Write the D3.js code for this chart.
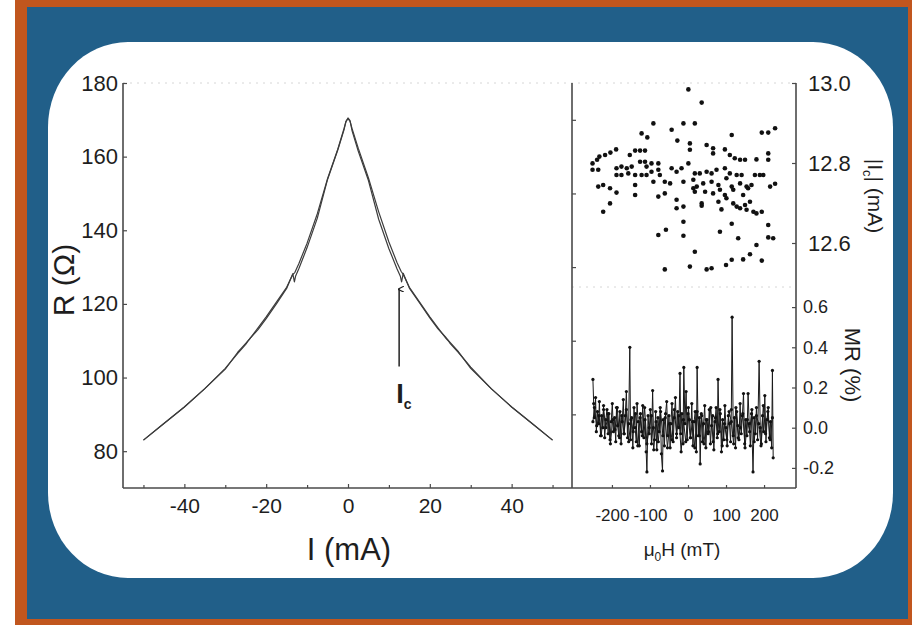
<!DOCTYPE html>
<html>
<head>
<meta charset="utf-8">
<script src="https://cdn.jsdelivr.net/npm/d3@7/dist/d3.min.js"></script>
<style>
    body { margin: 0; background: #ffffff; }
    text { font-family: "Liberation Sans", Arial, sans-serif; fill: #1e1e1e; }
</style>
</head>
<body>
<div id="chart"></div>
<script>
/* * * * * * * * * * * * * *
*   R(I) + Ic(H) + MR(H)   *
* * * * * * * * * * * * * */

// current sweep -50 -> +50 mA
const currentUp = [-50,-45,-40,-35,-30,-27,-25,-24.5,-24,-22,-20,-17.5,-15,-13.5,-13,-12,-10,-7.5,-5,-2.5,-1,-0.5,0,0.5,1,2.5,5,7.5,10,12,12.8,13.1,13.5,15,17.5,20,22,24,25,27,30,35,40,45,50];
const resistanceUp = [83,87.5,92,97,102.5,106.5,109,109.8,110.5,113.5,116.5,120.5,124.5,128,128.5,131,136.5,144.5,154,162,167.5,169.5,170.5,169.8,167,161.5,153.5,143,135,129.5,127.5,126,128.3,124.3,120.3,116.2,113.2,110.8,109.5,107,102.5,97,92,87.5,83];

// current sweep +50 -> -50 mA
const currentDown = [50,45,40,35,30,27,25,24.5,24,22,20,17.5,15,13.5,13,12,10,7.5,5,2.5,1,0.5,0,-0.5,-1,-2.5,-5,-7.5,-10,-12,-12.8,-13.1,-13.5,-15,-17.5,-20,-22,-24,-25,-27,-30,-35,-40,-45,-50];
const resistanceDown = [83,87.5,92,97,102.8,106.8,109.2,110,110.6,113.5,116.5,120.5,124.5,128,128.8,131.2,136.8,145,154.2,162.3,167.6,169.6,170.3,169.6,167.2,161.8,153.8,143.3,135.3,129.6,127.6,126,128.2,124.2,120,116,113,110.6,109.3,106.8,102.3,97,92,87.5,83];

// |Ic| (mA) vs mu0H (mT)
const icPoints = [
    [1,12.984],[36,12.951],[-91,12.899],[-12,12.899],[18,12.899],[-122,12.874],[-107,12.864],[-43,12.883],
    [115,12.870],[194,12.876],[211,12.876],[229,12.887],[-28,12.856],[5,12.849],[49,12.845],[66,12.837],
    [-233,12.816],[-218,12.820],[-204,12.826],[-189,12.834],[-153,12.820],[-139,12.831],[-126,12.831],[-113,12.831],
    [5,12.833],[66,12.824],[97,12.834],[110,12.820],[123,12.812],[137,12.808],[150,12.808],[180,12.809],
    [211,12.824],[211,12.808],[-251,12.799],[-239,12.808],[-251,12.783],[-236,12.783],[-188,12.787],[-175,12.791],
    [-161,12.787],[-148,12.791],[-126,12.803],[-113,12.803],[-109,12.791],[-96,12.799],[-78,12.799],[-43,12.787],
    [-30,12.778],[-17,12.787],[1,12.799],[18,12.774],[31,12.774],[49,12.778],[62,12.774],[75,12.783],
    [97,12.787],[110,12.774],[128,12.770],[141,12.770],[176,12.770],[189,12.770],[198,12.770],[-188,12.770],
    [-175,12.770],[-157,12.774],[-139,12.770],[-122,12.770],[-109,12.770],[-96,12.778],[-78,12.783],[-74,12.770],
    [-236,12.741],[-223,12.745],[-205,12.737],[-139,12.745],[-91,12.753],[-61,12.753],[-47,12.749],[-12,12.753],
    [14,12.758],[23,12.741],[40,12.749],[62,12.753],[80,12.745],[101,12.762],[115,12.741],[137,12.749],
    [154,12.741],[167,12.745],[216,12.741],[229,12.748],[-188,12.726],[-139,12.720],[-78,12.716],[-61,12.724],
    [-30,12.708],[14,12.737],[18,12.728],[45,12.728],[66,12.724],[84,12.733],[97,12.720],[119,12.733],
    [145,12.720],[158,12.737],[-205,12.699],[-223,12.678],[-30,12.687],[-12,12.691],[36,12.699],[36,12.693],
    [80,12.703],[88,12.684],[101,12.712],[119,12.699],[128,12.691],[137,12.687],[150,12.695],[163,12.703],
    [172,12.678],[180,12.674],[194,12.678],[154,12.683],[-12,12.653],[115,12.648],[211,12.645],[-78,12.620],
    [-58,12.633],[-12,12.618],[84,12.628],[132,12.612],[180,12.595],[211,12.614],[224,12.612],[18,12.578],
    [163,12.572],[145,12.559],[115,12.558],[100,12.545],[62,12.537],[49,12.534],[5,12.541],[-61,12.534],
    [194,12.556]
];

// MR (%) vs mu0H (mT), field sweep up
const mrPoints = [
    [-250,0.24],[-248,0.12],[-246,0.05],[-243,0.15],[-241,-0.02],[-238,0.08],[-235,0.02],[-233,0.13],
    [-230,-0.04],[-227,0.06],[-224,0.0],[-222,0.11],[-219,-0.05],[-216,0.04],[-213,0.09],[-210,-0.03],
    [-208,0.07],[-205,-0.06],[-202,0.03],[-199,0.12],[-196,-0.02],[-193,0.05],[-190,-0.07],[-188,0.1],
    [-185,0.01],[-182,-0.04],[-179,0.08],[-176,-0.08],[-173,0.03],[-170,0.14],[-168,-0.03],[-165,0.06],
    [-162,0.18],[-159,-0.05],[-156,0.02],[-153,0.40],[-151,-0.06],[-148,0.05],[-145,-0.1],[-142,0.1],
    [-139,0.0],[-136,-0.07],[-134,0.12],[-131,0.03],[-128,-0.09],[-125,0.07],[-122,-0.02],[-119,0.11],
    [-116,-0.05],[-113,0.04],[-110,-0.12],[-108,-0.22],[-105,0.06],[-102,-0.03],[-99,0.09],[-96,-0.08],
    [-93,0.185],[-91,0.0],[-88,-0.06],[-85,0.08],[-82,-0.11],[-79,0.05],[-76,-0.02],[-73,0.1],
    [-70,-0.13],[-67,-0.215],[-65,0.04],[-62,-0.09],[-59,0.07],[-56,0.13],[-53,-0.04],[-50,0.06],
    [-47,-0.1],[-45,0.02],[-42,0.12],[-39,-0.07],[-36,0.05],[-33,0.15],[-30,-0.05],[-27,0.08],
    [-24,0.0],[-21,0.27],[-19,-0.03],[-16,0.07],[-13,-0.08],[-11,0.30],[-8,0.02],[-5,0.18],
    [-2,-0.06],[1,0.1],[4,0.04],[7,-0.05],[10,0.12],[13,-0.09],[16,0.03],[19,0.08],
    [22,-0.12],[24,0.30],[27,-0.04],[30,0.05],[32,-0.18],[35,0.07],[38,-0.07],[41,0.02],
    [44,0.11],[47,-0.1],[50,0.04],[53,-0.03],[56,0.09],[59,-0.08],[62,0.01],[65,0.06],
    [68,-0.11],[71,0.03],[74,0.1],[77,-0.05],[79,0.24],[82,-0.02],[85,0.07],[88,-0.12],
    [91,0.04],[94,-0.06],[97,0.11],[100,0.0],[103,-0.09],[106,0.06],[109,0.02],[112,-0.07],
    [114,0.09],[116,0.55],[119,-0.04],[122,0.05],[125,-0.1],[128,0.08],[131,0.01],[134,-0.06],
    [137,0.12],[140,-0.03],[143,0.06],[146,0.17],[149,-0.08],[152,0.04],[155,-0.04],[158,0.17],
    [161,0.02],[164,-0.09],[167,0.07],[171,-0.22],[174,0.05],[177,-0.03],[180,0.1],[183,-0.06],
    [187,0.33],[190,0.0],[193,-0.08],[196,0.06],[199,-0.02],[202,0.16],[205,-0.07],[208,0.04],
    [211,0.1],[214,-0.05],[217,0.03],[220,-0.1],[222,0.285],[224,-0.15]
];

// MR (%) vs mu0H (mT), field sweep back
const mrReturnPoints = [
    [222,0.05],[216,-0.06],[210,0.08],[204,-0.03],[198,0.11],[192,-0.09],[186,0.02],[180,0.06],
    [174,-0.07],[168,0.09],[162,-0.02],[156,0.04],[150,-0.1],[144,0.07],[138,0.0],[132,-0.05],
    [126,0.1],[120,-0.08],[114,0.03],[108,0.08],[102,-0.06],[96,0.02],[90,-0.09],[84,0.09],
    [78,-0.03],[72,0.05],[66,-0.07],[60,0.1],[54,-0.02],[48,0.04],[42,-0.08],[36,0.06],
    [30,-0.04],[24,0.08],[18,-0.1],[12,0.03],[6,-0.05],[0,0.07],[-6,-0.07],[-12,0.04],
    [-18,-0.12],[-24,0.06],[-30,-0.03],[-36,0.09],[-42,-0.06],[-48,0.02],[-54,-0.1],[-60,0.05],
    [-66,-0.04],[-72,0.08],[-78,-0.07],[-84,0.03],[-90,-0.11],[-96,0.06],[-102,0.0],[-108,-0.08],
    [-114,0.1],[-120,-0.04],[-126,0.05],[-132,-0.09],[-138,0.07],[-144,-0.02],[-150,0.04],[-156,-0.07],
    [-162,0.09],[-168,-0.03],[-174,0.06],[-180,-0.05],[-186,0.1],[-192,-0.01],[-198,0.04],[-204,-0.08],
    [-210,0.07],[-216,0.0],[-222,0.09],[-228,-0.04],[-234,0.06],[-240,0.01],[-246,0.1],[-250,0.03]
];

// ticks
const resistanceTicks = [80, 100, 120, 140, 160, 180];
const resistanceMirrorTicks = [90, 110, 130, 150, 170];
const currentTicks = [-40, -20, 0, 20, 40];
const currentMinorTicks = [-50, -30, -10, 10, 30, 50];
const fieldTicks = [-200, -100, 0, 100, 200];
const icTicks = [12.6, 12.8, 13.0];
const mrTicks = [-0.2, 0.0, 0.2, 0.4, 0.6];

// Ic arrow annotation (data units)
const icArrow = {current: 12.5, from: 103, to: 124};


class TransportVis {

    constructor(parentElement) {
        this.parentElement = parentElement;
        this.initVis();
    }

    initVis() {
        let vis = this;

        vis.width = 912;
        vis.height = 625;

        vis.svg = d3.select("#" + vis.parentElement).append("svg")
            .attr("width", vis.width)
            .attr("height", vis.height);

        // frame: orange border, blue field, white rounded card
        vis.svg.append("rect")
            .attr("x", 15).attr("y", 0)
            .attr("width", 897).attr("height", 625)
            .attr("fill", "#c1561e");
        vis.svg.append("rect")
            .attr("x", 27).attr("y", 7)
            .attr("width", 881).attr("height", 612)
            .attr("fill", "#215f89");
        vis.svg.append("rect")
            .attr("x", 48).attr("y", 42)
            .attr("width", 845).attr("height", 536)
            .attr("rx", 80).attr("ry", 85)
            .attr("fill", "#ffffff");

        // scales
        vis.x = d3.scaleLinear().domain([-55, 55]).range([123, 573]);
        vis.y = d3.scaleLinear().domain([70, 180]).range([488, 83]);
        vis.xH = d3.scaleLinear().domain([-305, 284]).range([572, 796]);
        vis.yIc = d3.scaleLinear().domain([12.49, 13.0]).range([287, 83]);
        vis.yMR = d3.scaleLinear().domain([-0.305, 0.7]).range([489, 287]);

        vis.updateVis();
    }

    updateVis() {
        let vis = this;
        let axisColor = "#4a4a4a";

        // faint top / middle borders
        vis.svg.append("line")
            .attr("x1", vis.x.range()[0]).attr("x2", vis.xH.range()[1])
            .attr("y1", vis.y.range()[1]).attr("y2", vis.y.range()[1])
            .attr("stroke", "#d6d6d6").attr("stroke-width", 1)
            .attr("stroke-dasharray", "2,5");
        vis.svg.append("line")
            .attr("x1", vis.xH.range()[0]).attr("x2", vis.xH.range()[1])
            .attr("y1", vis.yIc.range()[0]).attr("y2", vis.yIc.range()[0])
            .attr("stroke", "#d6d6d6").attr("stroke-width", 1)
            .attr("stroke-dasharray", "2,5");

        // left axis R
        let yAxis = vis.svg.append("g")
            .attr("transform", `translate(${vis.x.range()[0]},0)`)
            .call(d3.axisLeft(vis.y).tickValues(resistanceTicks).tickSizeInner(-4).tickSizeOuter(0).tickPadding(5));
        yAxis.selectAll("text").style("font-size", "22px");

        // bottom axis I
        let xAxis = vis.svg.append("g")
            .attr("transform", `translate(0,${vis.y.range()[0]})`)
            .call(d3.axisBottom(vis.x).tickValues(currentTicks).tickFormat(d => String(d))
                .tickSizeInner(-4).tickSizeOuter(0).tickPadding(10));
        xAxis.selectAll("text").style("font-size", "21px");
        vis.svg.append("g")
            .attr("transform", `translate(0,${vis.y.range()[0]})`)
            .call(d3.axisBottom(vis.x).tickValues(currentMinorTicks).tickFormat("").tickSizeInner(-3).tickSizeOuter(0));

        // right panel bottom axis H
        let hAxis = vis.svg.append("g")
            .attr("transform", `translate(0,${vis.y.range()[0]})`)
            .call(d3.axisBottom(vis.xH).tickValues(fieldTicks).tickFormat(d => String(d))
                .tickSizeInner(-3).tickSizeOuter(0).tickPadding(21));
        hAxis.selectAll("text").style("font-size", "17px");

        // right axes Ic and MR
        let icAxis = vis.svg.append("g")
            .attr("transform", `translate(${vis.xH.range()[1]},0)`)
            .call(d3.axisRight(vis.yIc).tickValues(icTicks).tickFormat(d => d.toFixed(1))
                .tickSizeInner(-4).tickSizeOuter(0).tickPadding(12));
        icAxis.selectAll("text").style("font-size", "22px");

        let mrAxis = vis.svg.append("g")
            .attr("transform", `translate(${vis.xH.range()[1]},0)`)
            .call(d3.axisRight(vis.yMR).tickValues(mrTicks).tickFormat(d => d.toFixed(1))
                .tickSizeInner(-4).tickSizeOuter(0).tickPadding(7));
        mrAxis.selectAll("text").style("font-size", "18px");

        // mirrored ticks on the divider
        vis.svg.append("g")
            .attr("transform", `translate(${vis.xH.range()[0]},0)`)
            .call(d3.axisRight(vis.y).tickValues(resistanceMirrorTicks).tickFormat("").tickSizeInner(4).tickSizeOuter(0));

        vis.svg.selectAll(".domain").remove();
        vis.svg.selectAll(".tick line").attr("stroke", axisColor).attr("stroke-width", 1.2);

        // frame lines
        let top = vis.y.range()[1], bottom = vis.y.range()[0];
        [[vis.x.range()[0], top, vis.x.range()[0], bottom],
         [vis.x.range()[0], bottom, vis.xH.range()[1], bottom],
         [vis.xH.range()[0], top, vis.xH.range()[0], bottom],
         [vis.xH.range()[1], top, vis.xH.range()[1], bottom]].forEach(l => {
            vis.svg.append("line")
                .attr("x1", l[0]).attr("y1", l[1]).attr("x2", l[2]).attr("y2", l[3])
                .attr("stroke", axisColor).attr("stroke-width", 1.6);
        });

        // R(I) curves
        let line = d3.line().x(d => vis.x(d[0])).y(d => vis.y(d[1]));
        let sweeps = [d3.zip(currentUp, resistanceUp), d3.zip(currentDown, resistanceDown)];
        vis.svg.selectAll(".sweep").data(sweeps)
            .enter()
            .append("path")
            .attr("class", "sweep")
            .attr("d", line)
            .attr("fill", "none")
            .attr("stroke", "#3c3c3c")
            .attr("stroke-width", 1.2)
            .attr("stroke-linejoin", "round");

        // Ic arrow + label
        vis.svg.append("defs").append("marker")
            .attr("id", "arrowHead")
            .attr("viewBox", "0 0 10 10")
            .attr("refX", 5).attr("refY", 2)
            .attr("markerWidth", 4).attr("markerHeight", 4)
            .attr("orient", "auto-start-reverse")
            .append("path")
            .attr("d", "M0,10 L5,0 L10,10")
            .attr("fill", "none").attr("stroke", "#222").attr("stroke-width", 2);

        vis.svg.append("line")
            .attr("x1", vis.x(icArrow.current)).attr("x2", vis.x(icArrow.current))
            .attr("y1", vis.y(icArrow.from)).attr("y2", vis.y(icArrow.to))
            .attr("stroke", "#222").attr("stroke-width", 1.5)
            .attr("marker-end", "url(#arrowHead)");

        let icLabel = vis.svg.append("text")
            .attr("x", vis.x(icArrow.current) - 3)
            .attr("y", vis.y(icArrow.from) + 36)
            .style("font-weight", "bold")
            .style("font-size", "27px");
        icLabel.append("tspan").text("I");
        icLabel.append("tspan").text("c").attr("dy", 6).style("font-size", "14px");

        // Ic scatter
        vis.svg.selectAll(".ic-dot").data(icPoints)
            .enter()
            .append("circle")
            .attr("class", "ic-dot")
            .attr("cx", d => vis.xH(d[0]))
            .attr("cy", d => vis.yIc(d[1]))
            .attr("r", 2.3)
            .attr("fill", "#111");

        // MR lines + dots (both field sweeps)
        let mrLine = d3.line().x(d => vis.xH(d[0])).y(d => vis.yMR(d[1]));
        let mrSweeps = [mrPoints, mrReturnPoints];
        vis.svg.selectAll(".mr-line").data(mrSweeps)
            .enter()
            .append("path")
            .attr("class", "mr-line")
            .attr("d", mrLine)
            .attr("fill", "none")
            .attr("stroke", "#1a1a1a")
            .attr("stroke-width", 1);
        vis.svg.selectAll(".mr-dot").data(mrPoints.concat(mrReturnPoints))
            .enter()
            .append("circle")
            .attr("class", "mr-dot")
            .attr("cx", d => vis.xH(d[0]))
            .attr("cy", d => vis.yMR(d[1]))
            .attr("r", 1.6)
            .attr("fill", "#111");

        // axis titles
        vis.svg.append("text")
            .attr("transform", "translate(74,280) rotate(-90)")
            .attr("text-anchor", "middle")
            .style("font-size", "30px")
            .text("R (Ω)");

        vis.svg.append("text")
            .attr("x", 349).attr("y", 560)
            .attr("text-anchor", "middle")
            .style("font-size", "31px")
            .text("I (mA)");

        let hTitle = vis.svg.append("text")
            .attr("x", 682).attr("y", 556)
            .attr("text-anchor", "middle")
            .style("font-size", "19px");
        hTitle.append("tspan").text("μ");
        hTitle.append("tspan").text("0").attr("dy", 5).style("font-size", "12px");
        hTitle.append("tspan").text("H (mT)").attr("dy", -5);

        let icTitle = vis.svg.append("text")
            .attr("transform", "translate(868,196) rotate(90)")
            .attr("text-anchor", "middle")
            .style("font-size", "21px");
        icTitle.append("tspan").text("|I");
        icTitle.append("tspan").text("c").attr("dy", 5).style("font-size", "13px");
        icTitle.append("tspan").text("| (mA)").attr("dy", -5);

        vis.svg.append("text")
            .attr("transform", "translate(845,365) rotate(90)")
            .attr("text-anchor", "middle")
            .style("font-size", "22px")
            .text("MR (%)");
    }
}

new TransportVis("chart");
</script>
</body>
</html>
